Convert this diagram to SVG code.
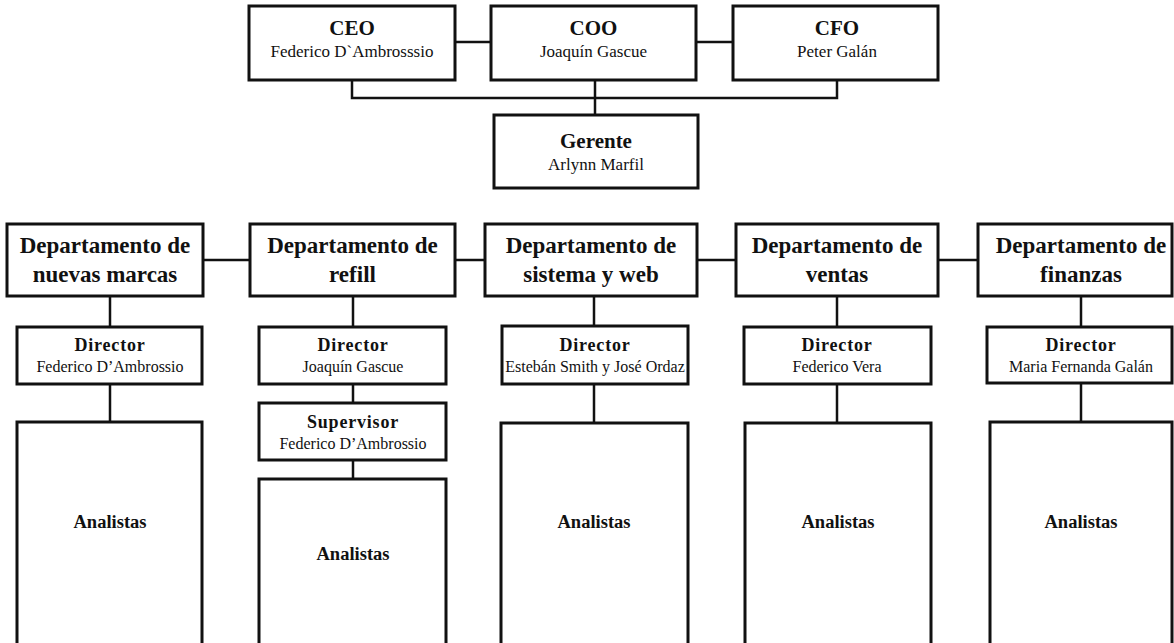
<svg xmlns="http://www.w3.org/2000/svg" width="1174" height="643" viewBox="0 0 1174 643">
<style>
.box{fill:#fff;stroke:#111;stroke-width:3}
.ln{fill:none;stroke:#111;stroke-width:2.5}
text{font-family:"Liberation Serif","Times New Roman",serif;fill:#111;text-anchor:middle}
.t1{font-size:21px;font-weight:bold}
.n1{font-size:17px}
.dt{font-size:23px;font-weight:bold}
.st{font-size:18px;font-weight:bold;letter-spacing:0.8px}
.sn{font-size:16px}
.an{font-size:18.5px;font-weight:bold}
</style>
<rect width="1174" height="643" fill="#fff"/>
<g id="connectors">
<path class="ln" d="M455 42H491M696 42H733M352 80V98H837V80M595 80V115"/>
<path class="ln" d="M203 260H250M455 260H485M697 260H736M938 260H978"/>
<path class="ln" d="M110 296V327M110 384V422"/>
<path class="ln" d="M353 296V327M353 384V403M353 460V479"/>
<path class="ln" d="M594 296V326M594 384V423"/>
<path class="ln" d="M837 296V327M837 384V423"/>
<path class="ln" d="M1081 296V327M1081 383V422"/>
</g>
<g id="ceo"><rect class="box" x="249" y="6" width="206" height="74"/><text class="t1" x="352" y="35">CEO</text><text class="n1" x="352" y="57">Federico D`Ambrosssio</text></g>
<g id="coo"><rect class="box" x="491" y="6" width="205" height="74"/><text class="t1" x="593.5" y="35">COO</text><text class="n1" x="593.5" y="57">Joaquín Gascue</text></g>
<g id="cfo"><rect class="box" x="733" y="6" width="205" height="74"/><text class="t1" x="837" y="35">CFO</text><text class="n1" x="837" y="57">Peter Galán</text></g>
<g id="gerente"><rect class="box" x="494" y="115" width="204" height="73"/><text class="t1" x="596" y="148">Gerente</text><text class="n1" x="596" y="170">Arlynn Marfil</text></g>

<g id="dep-marcas"><rect class="box" x="7" y="224" width="196" height="72"/><text class="dt" x="105" y="253">Departamento de</text><text class="dt" x="105" y="282">nuevas marcas</text></g>
<g id="dep-refill"><rect class="box" x="250" y="224" width="205" height="72"/><text class="dt" x="352.5" y="253">Departamento de</text><text class="dt" x="352.5" y="282">refill</text></g>
<g id="dep-sistema"><rect class="box" x="485" y="224" width="212" height="72"/><text class="dt" x="591" y="253">Departamento de</text><text class="dt" x="591" y="282">sistema y web</text></g>
<g id="dep-ventas"><rect class="box" x="736" y="224" width="202" height="72"/><text class="dt" x="837" y="253">Departamento de</text><text class="dt" x="837" y="282">ventas</text></g>
<g id="dep-finanzas"><rect class="box" x="978" y="224" width="194" height="72"/><text class="dt" x="1081" y="253">Departamento de</text><text class="dt" x="1081" y="282">finanzas</text></g>

<g id="dir-marcas"><rect class="box" x="17" y="327" width="185" height="57"/><text class="st" x="110" y="351">Director</text><text class="sn" x="110" y="372">Federico D’Ambrossio</text></g>
<g id="dir-refill"><rect class="box" x="259" y="327" width="187" height="57"/><text class="st" x="353" y="351">Director</text><text class="sn" x="353" y="372">Joaquín Gascue</text></g>
<g id="sup-refill"><rect class="box" x="259" y="403" width="187" height="57"/><text class="st" x="353" y="428">Supervisor</text><text class="sn" x="353" y="449">Federico D’Ambrossio</text></g>
<g id="dir-sistema"><rect class="box" x="502" y="326" width="186" height="58"/><text class="st" x="595" y="351">Director</text><text class="sn" x="595" y="372" font-size="15.5">Estebán Smith y José Ordaz</text></g>
<g id="dir-ventas"><rect class="box" x="744" y="327" width="187" height="57"/><text class="st" x="837" y="351">Director</text><text class="sn" x="837" y="372">Federico Vera</text></g>
<g id="dir-finanzas"><rect class="box" x="987" y="327" width="185" height="56"/><text class="st" x="1081" y="351">Director</text><text class="sn" x="1081" y="372">Maria Fernanda Galán</text></g>

<g id="an-marcas"><rect class="box" x="17" y="422" width="185" height="240"/><text class="an" x="110" y="528">Analistas</text></g>
<g id="an-refill"><rect class="box" x="259" y="479" width="187" height="190"/><text class="an" x="353" y="560">Analistas</text></g>
<g id="an-sistema"><rect class="box" x="501" y="423" width="187" height="240"/><text class="an" x="594" y="528">Analistas</text></g>
<g id="an-ventas"><rect class="box" x="745" y="423" width="186" height="240"/><text class="an" x="838" y="528">Analistas</text></g>
<g id="an-finanzas"><rect class="box" x="990" y="422" width="182" height="240"/><text class="an" x="1081" y="528">Analistas</text></g>
</svg>
